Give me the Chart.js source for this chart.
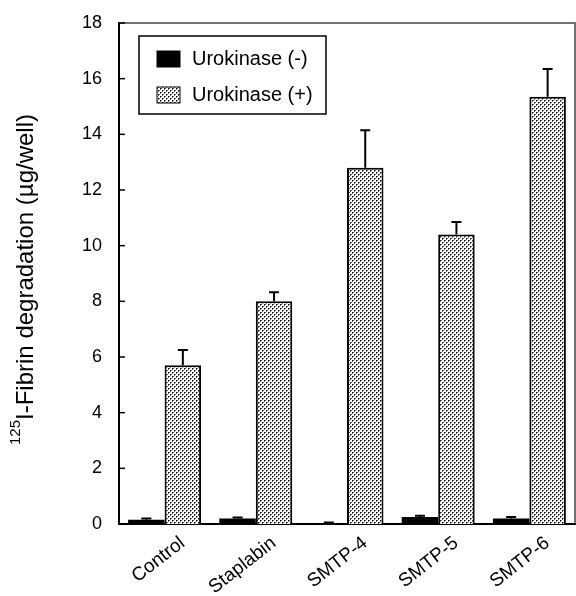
<!DOCTYPE html>
<html>
<head>
<meta charset="utf-8">
<script src="https://cdn.jsdelivr.net/npm/chart.js@4/dist/chart.umd.min.js"></script>
<style>
  html, body { margin: 0; padding: 0; background: #fff; }
  #wrap { width: 576px; height: 596px; }
</style>
</head>
<body>
<div id="wrap"><canvas id="myChart" width="576" height="596"></canvas></div>
<script>
const categories = ['Control', 'Staplabin', 'SMTP-4', 'SMTP-5', 'SMTP-6'];
const ukMinus = [0.15, 0.2, 0.03, 0.25, 0.2];
const ukMinusErr = [0.05, 0.03, 0.02, 0.05, 0.05];
const ukPlus = [5.7, 8.0, 12.8, 10.4, 15.35];
const ukPlusErr = [0.55, 0.33, 1.35, 0.45, 1.0];
const seriesLabels = ['Urokinase (-)', 'Urokinase (+)'];
const yTicks = [0, 2, 4, 6, 8, 10, 12, 14, 16, 18];

const FONT = 'Arial, "Liberation Sans", Helvetica, sans-serif';

// stipple fill for the (+) bars
function makeStipple() {
  const c = document.createElement('canvas');
  c.width = 4; c.height = 4;
  const g = c.getContext('2d');
  g.fillStyle = '#fff';
  g.fillRect(0, 0, 4, 4);
  g.fillStyle = '#111';
  g.fillRect(0, 0, 1, 1);
  g.fillRect(2, 2, 1, 1);
  g.fillStyle = '#666';
  g.fillRect(1, 0, 1, 1);
  g.fillRect(0, 1, 1, 1);
  g.fillRect(3, 2, 1, 1);
  g.fillRect(2, 3, 1, 1);
  return g.createPattern(c, 'repeat');
}
const stipple = makeStipple();

const errorBars = {
  id: 'errorBars',
  afterDatasetsDraw(chart) {
    const ctx = chart.ctx;
    const y = chart.scales.y;
    ctx.save();
    ctx.strokeStyle = '#000';
    ctx.lineWidth = 2;
    chart.data.datasets.forEach((ds, di) => {
      const meta = chart.getDatasetMeta(di);
      meta.data.forEach((bar, i) => {
        const top = y.getPixelForValue(ds.data[i]);
        const hi = y.getPixelForValue(ds.data[i] + ds.errors[i]);
        ctx.beginPath();
        ctx.moveTo(bar.x, top);
        ctx.lineTo(bar.x, hi);
        ctx.moveTo(bar.x - 5, hi);
        ctx.lineTo(bar.x + 5, hi);
        ctx.stroke();
      });
    });
    ctx.restore();
  }
};

const frame = {
  id: 'frame',
  afterDraw(chart) {
    const {ctx, chartArea: a} = chart;
    const y = chart.scales.y;
    ctx.save();
    // top and right edges
    ctx.strokeStyle = '#444';
    ctx.lineWidth = 1.5;
    ctx.beginPath();
    ctx.moveTo(a.left, a.top);
    ctx.lineTo(a.right, a.top);
    ctx.lineTo(a.right, a.bottom);
    ctx.stroke();
    // inward tick marks
    ctx.strokeStyle = '#000';
    ctx.lineWidth = 1.5;
    y.ticks.forEach(t => {
      const py = y.getPixelForValue(t.value);
      ctx.beginPath();
      ctx.moveTo(a.left, py);
      ctx.lineTo(a.left + 6, py);
      ctx.stroke();
    });
    // y title with superscript
    const cx = 26, cy = (a.top + a.bottom) / 2 + 6;
    ctx.translate(cx, cy);
    ctx.rotate(-Math.PI / 2);
    ctx.fillStyle = '#000';
    ctx.textBaseline = 'middle';
    ctx.font = '15px ' + FONT;
    const sup = '125';
    const supW = ctx.measureText(sup).width;
    ctx.font = '24px ' + FONT;
    const main = 'I-Fibrin degradation (µg/well)';
    const mainW = ctx.measureText(main).width;
    const x0 = -(supW + mainW) / 2;
    ctx.textAlign = 'left';
    ctx.fillText(main, x0 + supW, 0);
    ctx.font = '15px ' + FONT;
    ctx.fillText(sup, x0, -10);
    ctx.restore();
  }
};

const boxLegend = {
  id: 'boxLegend',
  afterDraw(chart) {
    const ctx = chart.ctx;
    const a = chart.chartArea;
    const bx = a.left + 20, by = a.top + 13, bw = 187, bh = 78;
    ctx.save();
    ctx.strokeStyle = '#000';
    ctx.lineWidth = 1.5;
    ctx.strokeRect(bx, by, bw, bh);
    ctx.font = '20px ' + FONT;
    ctx.textBaseline = 'middle';
    ctx.fillStyle = '#000';
    chart.data.datasets.forEach((ds, i) => {
      const ly = by + 23 + i * 36;
      ctx.fillStyle = ds.backgroundColor;
      ctx.fillRect(bx + 18, ly - 8, 23, 16);
      ctx.strokeStyle = '#000';
      ctx.lineWidth = 1;
      ctx.strokeRect(bx + 18, ly - 8, 23, 16);
      ctx.fillStyle = '#000';
      ctx.fillText(ds.label, bx + 53, ly);
    });
    ctx.restore();
  }
};

const ctx = document.getElementById('myChart').getContext('2d');
const chart = new Chart(ctx, {
  type: 'bar',
  data: {
    labels: categories,
    datasets: [
      {
        label: seriesLabels[0],
        data: ukMinus,
        errors: ukMinusErr,
        backgroundColor: '#000',
        borderColor: '#000',
        borderWidth: 0
      },
      {
        label: seriesLabels[1],
        data: ukPlus,
        errors: ukPlusErr,
        backgroundColor: stipple,
        borderColor: '#000',
        borderWidth: 2
      }
    ]
  },
  options: {
    responsive: false,
    animation: false,
    devicePixelRatio: 1,
    layout: { padding: { left: 0, right: 1, top: 23, bottom: 0 } },
    datasets: { bar: { categoryPercentage: 0.8, barPercentage: 1.0 } },
    plugins: {
      legend: { display: false },
      tooltip: { enabled: false }
    },
    scales: {
      x: {
        grid: { display: false },
        border: { display: true, color: '#000', width: 2 },
        ticks: {
          color: '#000',
          font: { family: FONT, size: 19 },
          minRotation: 38,
          maxRotation: 38,
          labelOffset: 18,
          padding: 0
        },
        afterFit(s) { s.height = 72; s.paddingLeft = 0; s.paddingRight = 0; }
      },
      y: {
        min: 0,
        max: 18,
        grid: { display: false, drawTicks: false },
        border: { display: true, color: '#000', width: 2 },
        ticks: {
          stepSize: 2,
          color: '#000',
          padding: 17,
          font: { family: FONT, size: 18 },
          callback: (v) => yTicks.includes(v) ? String(v) : ''
        },
        afterFit(s) { s.width = 119; s.paddingTop = 0; s.paddingBottom = 0; }
      }
    }
  },
  plugins: [errorBars, frame, boxLegend]
});
</script>
</body>
</html>
